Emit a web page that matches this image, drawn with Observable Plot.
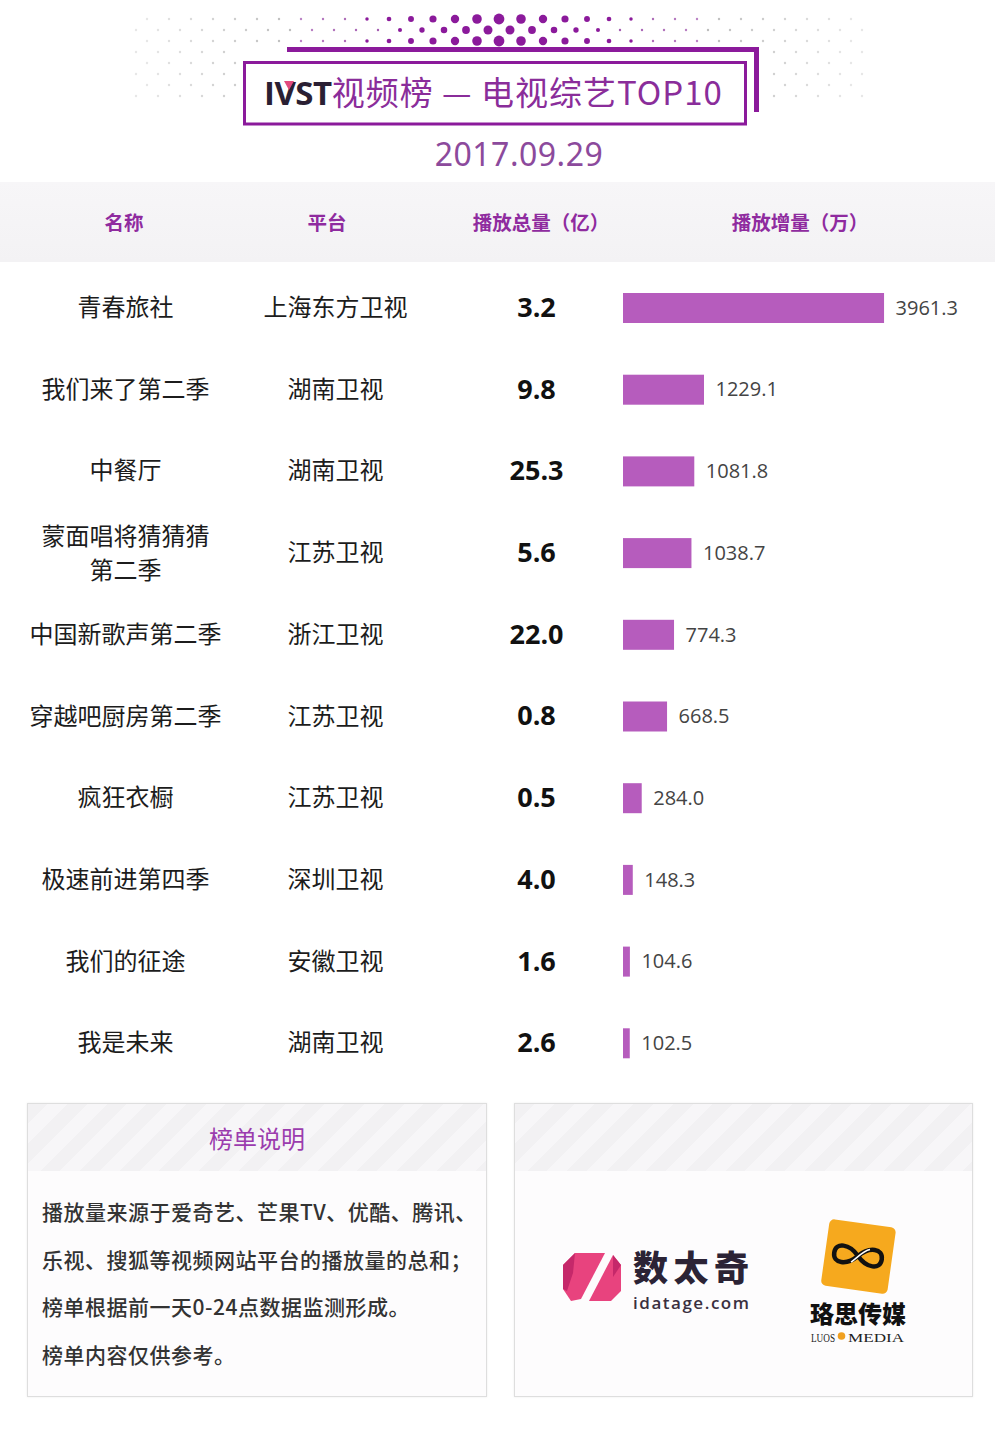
<!DOCTYPE html>
<html>
<head>
<meta charset="utf-8">
<script src="https://cdn.jsdelivr.net/npm/d3@7"></script>
<script src="https://cdn.jsdelivr.net/npm/@observablehq/plot@0.6"></script>
<style>
  html, body { margin: 0; padding: 0; background: #ffffff; }
  #page { position: relative; width: 1000px; height: 1440px; overflow: hidden; background: #fff; font-family: "Noto Sans CJK SC", "Noto Sans", sans-serif; }
  .abs { position: absolute; }
  #date { left: 0; width: 1038px; top: 132px; text-align: center; font-family: "Noto Sans", "Open Sans", sans-serif; font-size: 32px; color: #8c4a9c; letter-spacing: 0.5px; line-height: 44px; }
  #head { left: 0; top: 182px; width: 995px; height: 80px; background: linear-gradient(#f7f6f8, #f3f2f4); }
  .hl { position: absolute; top: 0; height: 80px; line-height: 80px; transform: translateX(-50%); font-size: 19.5px; font-weight: 700; color: #8f2b9f; white-space: nowrap; }
  .box { position: absolute; top: 1103px; height: 294px; border: 1px solid #dedede; box-sizing: border-box; background: #fdfcfd; box-shadow: 0 0 2px rgba(0,0,0,0.08); }
  .boxhead { position: absolute; left: 0; top: 0; right: 0; height: 67px; background: repeating-linear-gradient(135deg, #f2f1f3 0px, #f2f1f3 14px, #f7f6f8 14px, #f7f6f8 28px); }
  .boxtitle { position: absolute; left: 0; right: 0; top: 0; height: 67px; line-height: 67px; text-align: center; font-size: 24px; color: #9b3cae; }
  .note { position: absolute; left: 14px; font-size: 21px; font-weight: 500; color: #333; letter-spacing: 0.5px; white-space: nowrap; line-height: 30px; }
</style>
</head>
<body>
<div id="page">
  <svg id="deco" class="abs" style="left:0;top:0" width="1000" height="140"></svg>
  <div id="date" class="abs">2017.09.29</div>
  <div id="head" class="abs"></div>
  <div id="chart" class="abs" style="left:0;top:262px"></div>

  <div class="box" style="left:27px;width:460px">
    <div class="boxhead"></div>
    <div class="boxtitle">榜单说明</div>
    <div class="note" style="top:92px">播放量来源于爱奇艺、芒果TV、优酷、腾讯、</div>
    <div class="note" style="top:140px">乐视、搜狐等视频网站平台的播放量的总和；</div>
    <div class="note" style="top:187px">榜单根据前一天0-24点数据监测形成。</div>
    <div class="note" style="top:235px">榜单内容仅供参考。</div>
  </div>
  <div class="box" style="left:514px;width:459px">
    <div class="boxhead"></div>
    <svg class="abs" style="left:0;top:0" width="459" height="294">
      <g transform="translate(-514,-1103)">
        <!-- 数太奇 logo -->
        <polygon points="574,1252 604,1252 580,1298 570,1300 562,1288 562,1264" fill="#e8437e"/>
        <polygon points="562,1264 574,1252 572,1272 566,1290 562,1288" fill="#c5286a"/>
        <polygon points="612,1254 620,1264 620,1290 610,1300 588,1300" fill="#e8437e"/>
        <polygon points="612,1254 620,1264 612,1276" fill="#c5286a"/>
        <text x="632" y="1280" font-family="Noto Sans CJK SC" font-weight="900" font-size="35" fill="#2b2335" textLength="116">数太奇</text>
        <text x="632" y="1308" font-family="Open Sans" font-weight="600" font-size="17" fill="#3a3040" textLength="116">idatage.com</text>
        <!-- 珞思传媒 logo -->
        <g transform="rotate(8 857 1255)">
          <rect x="824" y="1222" width="67" height="67" rx="5" fill="#f6a91e"/>
          <path d="M857,1255 C847,1244 833,1244 833,1255 C833,1266 847,1266 857,1255 C867,1244 881,1244 881,1255 C881,1266 867,1266 857,1255 Z" fill="none" stroke="#111" stroke-width="4.5"/>
          <path d="M851,1262 C857,1256 862,1249 868,1247" fill="none" stroke="#fff" stroke-width="1.5"/>
        </g>
        <text x="857" y="1322" text-anchor="middle" font-family="Noto Sans CJK SC" font-weight="900" font-size="24" fill="#111">珞思传媒</text>
        <text x="810" y="1341" font-family="Liberation Serif" font-size="13" fill="#222" textLength="24" lengthAdjust="spacingAndGlyphs">LUOS</text>
        <circle cx="840.5" cy="1335" r="3.8" fill="#f0a020"/>
        <text x="847" y="1341" font-family="Liberation Serif" font-size="13" fill="#222" textLength="56" lengthAdjust="spacingAndGlyphs">MEDIA</text>
      </g>
    </svg>
  </div>
</div>

<script>
// ---------------- data ----------------
const names = ["青春旅社", "我们来了第二季", "中餐厅", "蒙面唱将猜猜猜第二季", "中国新歌声第二季", "穿越吧厨房第二季", "疯狂衣橱", "极速前进第四季", "我们的征途", "我是未来"];
const nameLabels = ["青春旅社", "我们来了第二季", "中餐厅", "蒙面唱将猜猜猜\n第二季", "中国新歌声第二季", "穿越吧厨房第二季", "疯狂衣橱", "极速前进第四季", "我们的征途", "我是未来"];
const platforms = ["上海东方卫视", "湖南卫视", "湖南卫视", "江苏卫视", "浙江卫视", "江苏卫视", "江苏卫视", "深圳卫视", "安徽卫视", "湖南卫视"];
const totals = [3.2, 9.8, 25.3, 5.6, 22.0, 0.8, 0.5, 4.0, 1.6, 2.6];           // 播放总量（亿）
const increments = [3961.3, 1229.1, 1081.8, 1038.7, 774.3, 668.5, 284.0, 148.3, 104.6, 102.5]; // 播放增量（万）
const headers = ["名称", "平台", "播放总量（亿）", "播放增量（万）"];
const title = "视频榜 — 电视综艺TOP10";

// ---------------- header ----------------
const head = document.getElementById("head");
const headX = [124, 327, 541, 800];
headers.forEach((h, i) => {
  const d = document.createElement("div");
  d.className = "hl";
  d.style.left = headX[i] + "px";
  d.textContent = h;
  head.appendChild(d);
});

// ---------------- decoration (dots + title frame) ----------------
const ns = "http://www.w3.org/2000/svg";
const deco = document.getElementById("deco");
function el(tag, attrs, parent) {
  const e = document.createElementNS(ns, tag);
  for (const k in attrs) e.setAttribute(k, attrs[k]);
  (parent || deco).appendChild(e);
  return e;
}
for (let i = 0; i < 8; i++) {
  const y = 19 + 11 * i;
  const off = i % 2 ? 11 : 0;
  for (let j = -17; j <= 17; j++) {
    const x = 499 + off + 22 * j;
    if (x < 128 || x > 872) continue;
    if (y >= 46 && x > 236 && x < 766) continue;
    const dxp = Math.abs(x - 499);
    const r = 5.4 - dxp / 36 - (i === 1 ? 0.6 : 0);
    if (r > 1.5) {
      el("circle", { cx: x, cy: y, r: r, fill: "#8b1a9b" });
    } else {
      const op = Math.max(0.25, 0.85 - (dxp - 140) / 350);
      el("circle", { cx: x, cy: y, r: 1.2, fill: dxp < 200 && y < 46 ? "#9a4aa8" : "#9a9a9a", "fill-opacity": op });
    }
  }
}
// frame
el("rect", { x: 287, y: 47, width: 472, height: 5, fill: "#8b1a9b" });
el("rect", { x: 754, y: 47, width: 5, height: 65, fill: "#8b1a9b" });
el("rect", { x: 244.5, y: 62.5, width: 501, height: 61.5, fill: "#fff", stroke: "#8b1a9b", "stroke-width": 3 });
const t = el("text", { x: 264, y: 105, "font-size": 33 });
const t1 = el("tspan", { "font-family": "Open Sans", "font-weight": 700, fill: "#2a1f33", "letter-spacing": "-0.5" }, t);
t1.textContent = "IVST";
const t2 = el("tspan", { "font-family": "Noto Sans CJK SC", "font-weight": 400, fill: "#8a2d9a", "letter-spacing": "1" }, t);
t2.textContent = title;
el("polygon", { points: "284,81 294,81 289,90", fill: "#e24b7f" });

// ---------------- chart ----------------
const rows = names.map((n, i) => ({
  name: n, label: nameLabels[i], platform: platforms[i], total: totals[i], inc: increments[i]
}));
const singleLine = rows.filter(d => !d.label.includes("\n"));
const multiLine = rows.filter(d => d.label.includes("\n"));

const chart = Plot.plot({
  width: 1000,
  height: 825,
  margin: 0,
  style: { background: "transparent", overflow: "visible" },
  x: { domain: [0, 4000], range: [623, 886.6], axis: null },
  y: { domain: names, range: [5, 822], padding: 0, round: false, axis: null },
  marks: [
    Plot.barX(rows, { x: "inc", y: "name", fill: "#b65cbd", insetTop: 26, insetBottom: 25.7 }),
    Plot.text(rows, { x: "inc", y: "name", text: d => d.inc.toFixed(1), textAnchor: "start", dx: 11, fontSize: 20, fill: "#444", fontFamily: "Open Sans" }),
    Plot.text(singleLine, { y: "name", text: "label", frameAnchor: "left", textAnchor: "middle", dx: 125, fontSize: 24, fill: "#1c1c1c", fontFamily: "Noto Sans CJK SC" }),
    Plot.text(multiLine, { y: "name", text: "label", frameAnchor: "left", textAnchor: "middle", dx: 125, dy: -2.5, fontSize: 24, lineHeight: 1.42, fill: "#1c1c1c", fontFamily: "Noto Sans CJK SC" }),
    Plot.text(rows, { y: "name", text: "platform", frameAnchor: "left", textAnchor: "middle", dx: 335, fontSize: 24, fill: "#1c1c1c", fontFamily: "Noto Sans CJK SC" }),
    Plot.text(rows, { y: "name", text: d => d.total.toFixed(1), frameAnchor: "left", textAnchor: "middle", dx: 536, fontSize: 27, fontWeight: 700, fill: "#111", fontFamily: "Open Sans" })
  ]
});
document.getElementById("chart").appendChild(chart);
</script>
</body>
</html>
